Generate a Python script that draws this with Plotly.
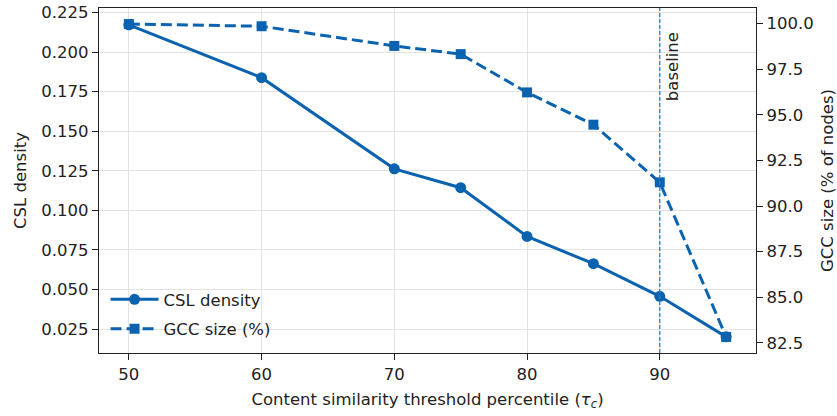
import plotly.graph_objects as go

thresholds = [50, 60, 70, 75, 80, 85, 90, 95]
csl_density = [0.2172, 0.1838, 0.1262, 0.1143, 0.0835, 0.0663, 0.0457, 0.0201]
gcc_size = [99.98, 99.86, 98.78, 98.33, 96.23, 94.46, 91.30, 82.82]
baseline_x = 90
x_ticks = [50, 60, 70, 80, 90]

BLUE = "#0b62af"
BASE = "#2a7fd4"
FONT = "DejaVu Sans"
FS = 16.5

fig = go.Figure()
fig.add_trace(go.Scatter(
    x=thresholds, y=csl_density, name="CSL density", mode="lines+markers",
    line=dict(color=BLUE, width=3), marker=dict(symbol="circle", size=11, color=BLUE),
    legendgroup="a", yaxis="y"))
fig.add_trace(go.Scatter(
    x=thresholds, y=gcc_size, name="GCC size (%)", mode="lines+markers",
    line=dict(color=BLUE, width=3, dash="11px,5px"), marker=dict(symbol="square", size=10, color=BLUE),
    legendgroup="b", yaxis="y2"))

fig.add_shape(type="line", xref="x", yref="paper", x0=baseline_x, x1=baseline_x, y0=0, y1=1,
              line=dict(color=BASE, width=1.3, dash="4px,2px"))
fig.add_annotation(x=baseline_x, xref="x", y=0.935, yref="paper", text="baseline",
                   textangle=-90, showarrow=False, xanchor="left", yanchor="top",
                   xshift=2, font=dict(family=FONT, size=FS, color="#222"))

axis_common = dict(showline=True, linecolor="#222", linewidth=1.3, ticks="outside",
                   ticklen=6, tickwidth=1.2, tickcolor="#222", automargin=False,
                   tickfont=dict(family=FONT, size=FS, color="#222"), zeroline=False)

fig.update_layout(
    width=837, height=416,
    margin=dict(l=99, r=81, t=8, b=63, autoexpand=False),
    paper_bgcolor="white", plot_bgcolor="white",
    font=dict(family=FONT, size=FS, color="#222"),
    xaxis=dict(range=[47.75, 97.25], tickvals=x_ticks, mirror=True,
               showgrid=True, gridcolor="#e3e3e3", gridwidth=1,
               title=dict(text="Content similarity threshold percentile (<i>τ<sub>c</sub></i>)",
                          font=dict(family=FONT, size=FS), standoff=10),
               **axis_common),
    yaxis=dict(range=[0.0099, 0.2278], dtick=0.025, tick0=0.025, tickformat=".3f",
               showgrid=True, gridcolor="#e3e3e3", gridwidth=1,
               title=dict(text="CSL density", font=dict(family=FONT, size=FS), standoff=10),
               **axis_common),
    yaxis2=dict(range=[81.94, 100.86], dtick=2.5, tick0=82.5, tickformat=".1f",
                overlaying="y", side="right", showgrid=False,
                title=dict(text="GCC size (% of nodes)", font=dict(family=FONT, size=FS), standoff=12),
                **axis_common),
    legend=dict(x=0.010, y=0.02, xanchor="left", yanchor="bottom", bgcolor="rgba(0,0,0,0)",
                font=dict(family=FONT, size=FS, color="#222"), traceorder="grouped",
                tracegroupgap=5, itemwidth=48),
    showlegend=True,
)

fig.write_html("out.html", config={"displayModeBar": False},
               post_script="document.body.style.margin='0';")
